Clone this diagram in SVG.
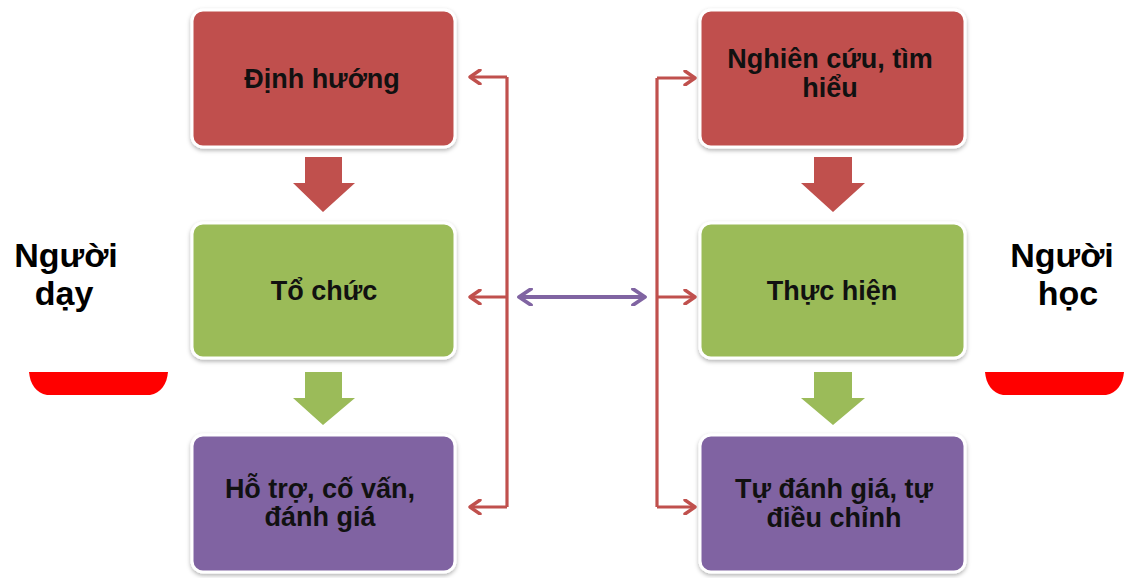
<svg xmlns="http://www.w3.org/2000/svg" width="1128" height="578" viewBox="0 0 1128 578">
<defs>
<filter id="sh" x="-10%" y="-10%" width="120%" height="125%">
<feDropShadow dx="0" dy="2" stdDeviation="2" flood-color="#000" flood-opacity="0.3"/>
</filter>
<marker id="hr" viewBox="0 0 14 16" refX="12" refY="8" markerWidth="14" markerHeight="16" markerUnits="userSpaceOnUse" orient="auto-start-reverse">
<path d="M2,1 L12,8 L2,15" fill="none" stroke="#C0504D" stroke-width="3.4" stroke-linecap="round" stroke-linejoin="round"/>
</marker>
<marker id="hp" viewBox="0 0 16 18" refX="14" refY="9" markerWidth="16" markerHeight="18" markerUnits="userSpaceOnUse" orient="auto-start-reverse">
<path d="M2,1 L14,9 L2,17" fill="none" stroke="#8064A2" stroke-width="3.8" stroke-linecap="round" stroke-linejoin="round"/>
</marker>
</defs>
<style>
.box{stroke:#fff;stroke-width:3;filter:url(#sh)}
.red{fill:#C0504D}.green{fill:#9BBB59}.purple{fill:#8064A2}
.t{font-family:"Liberation Sans",Arial,sans-serif;font-weight:bold;font-size:27px;fill:#111;text-anchor:middle}
.side{font-family:"Liberation Sans",Arial,sans-serif;font-weight:bold;font-size:34px;fill:#000;text-anchor:middle}
.conn{fill:none;stroke:#C0504D;stroke-width:3.2}
</style>
<rect width="1128" height="578" fill="#fff"/>

<g id="label-nguoi-day">
<text class="side" x="66" y="267">Người</text>
<text class="side" x="64" y="305">dạy</text>
<path d="M29,372 H168 C167,384 161,393 150,395 H47 C36,393 30,384 29,372 Z" fill="#FF0000"/>
</g>
<g id="label-nguoi-hoc">
<text class="side" x="1062" y="267">Người</text>
<text class="side" x="1068" y="305">học</text>
<path d="M985,372 H1124 C1123,384 1117,393 1106,395 H1003 C992,393 986,384 985,372 Z" fill="#FF0000"/>
</g>

<g id="node-dinh-huong">
<rect class="box red" x="192" y="10" width="263" height="137" rx="11"/>
<text class="t" x="322" y="88">Định hướng</text>
</g>
<g id="node-to-chuc">
<rect class="box green" x="192" y="223" width="263" height="135" rx="11"/>
<text class="t" x="324" y="300">Tổ chức</text>
</g>
<g id="node-ho-tro">
<rect class="box purple" x="192" y="435" width="263" height="137" rx="11"/>
<text class="t" x="320" y="498">Hỗ trợ, cố vấn,</text>
<text class="t" x="320" y="526">đánh giá</text>
</g>
<g id="node-nghien-cuu">
<rect class="box red" x="700" y="10" width="265" height="137" rx="11"/>
<text class="t" x="830" y="68">Nghiên cứu, tìm</text>
<text class="t" x="830" y="97">hiểu</text>
</g>
<g id="node-thuc-hien">
<rect class="box green" x="700" y="223" width="265" height="135" rx="11"/>
<text class="t" x="832" y="300">Thực hiện</text>
</g>
<g id="node-tu-danh-gia">
<rect class="box purple" x="700" y="435" width="265" height="137" rx="11"/>
<text class="t" x="834" y="498">Tự đánh giá, tự</text>
<text class="t" x="834" y="527">điều chỉnh</text>
</g>

<g id="connectors">
<path class="red" d="M305,157 H342 V183 H355 L323,212 L293,183 H305 Z"/>
<path class="green" d="M305,372 H342 V398 H355 L323,425 L293,398 H305 Z"/>
<path class="red" d="M814,157 H852 V183 H865 L833,212 L801,183 H814 Z"/>
<path class="green" d="M814,372 H852 V398 H865 L833,425 L801,398 H814 Z"/>
<path class="conn" d="M507,77 V507"/>
<path class="conn" d="M507,77 H470" marker-end="url(#hr)"/>
<path class="conn" d="M507,297 H470" marker-end="url(#hr)"/>
<path class="conn" d="M507,507 H470" marker-end="url(#hr)"/>
<path class="conn" d="M657,78 V507"/>
<path class="conn" d="M657,78 H695" marker-end="url(#hr)"/>
<path class="conn" d="M657,297 H695" marker-end="url(#hr)"/>
<path class="conn" d="M657,507 H695" marker-end="url(#hr)"/>
<path d="M519,297 H645" fill="none" stroke="#8064A2" stroke-width="3.8" marker-start="url(#hp)" marker-end="url(#hp)"/>
</g>
</svg>
